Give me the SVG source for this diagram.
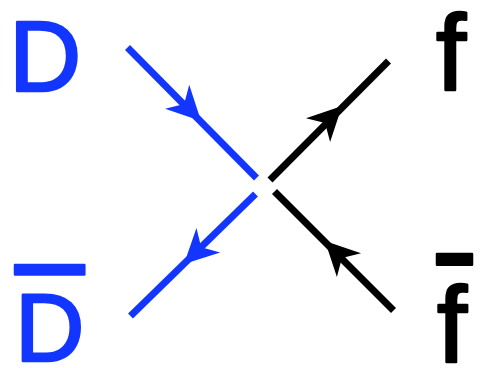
<svg xmlns="http://www.w3.org/2000/svg" xmlns:xlink="http://www.w3.org/1999/xlink" width="482" height="368" viewBox="0 0 482 368">
  <style>
    .lbl { font-family: "Liberation Sans", Arial, sans-serif; font-weight: normal; stroke-width: 2.5; stroke-linejoin: round; }
    .blue { fill: #1236ff; stroke: #1236ff; }
    .black { fill: #000000; stroke: #000000; }
    .bar { text-decoration: overline; }
    .ln { stroke-width: 7; stroke-linecap: butt; fill: none; }
    .lb { stroke: #1236ff; }
    .lk { stroke: #000000; }
    .ahb { fill: #1236ff; }
    .ahk { fill: #000000; }
  </style>
  <defs>
    <path id="ah" d="M0,0 L-34,-17 L-24,0 L-34,17 Z"/>
  </defs>
  <rect width="482" height="368" fill="#ffffff"/>
  <g id="connectors">
    <line class="ln lb" x1="127.5" y1="47.5" x2="256.5" y2="178"/>
    <use xlink:href="#ah" class="ahb" transform="translate(201,121) rotate(45.4)"/>
    <line class="ln lb" x1="255.5" y1="194" x2="130.5" y2="316"/>
    <use xlink:href="#ah" class="ahb" transform="translate(184,264) rotate(135.7)"/>
    <line class="ln lk" x1="270" y1="180" x2="388.5" y2="61"/>
    <use xlink:href="#ah" class="ahk" transform="translate(342,106) rotate(-45.2)"/>
    <line class="ln lk" x1="274.5" y1="191.5" x2="393.5" y2="310.5"/>
    <use xlink:href="#ah" class="ahk" transform="translate(325,241) rotate(-134.8)"/>
  </g>
  <g id="node-D">
    <text class="lbl blue" x="9" y="91" font-size="100">D</text>
  </g>
  <g id="node-Dbar">
    <text class="lbl blue bar" x="15" y="361" font-size="96">D</text>
  </g>
  <g id="node-f">
    <text class="lbl black" x="436" y="90" font-size="108">f</text>
  </g>
  <g id="node-fbar">
    <text class="lbl black bar" x="437" y="362" font-size="108" letter-spacing="5">f</text>
  </g>
</svg>
